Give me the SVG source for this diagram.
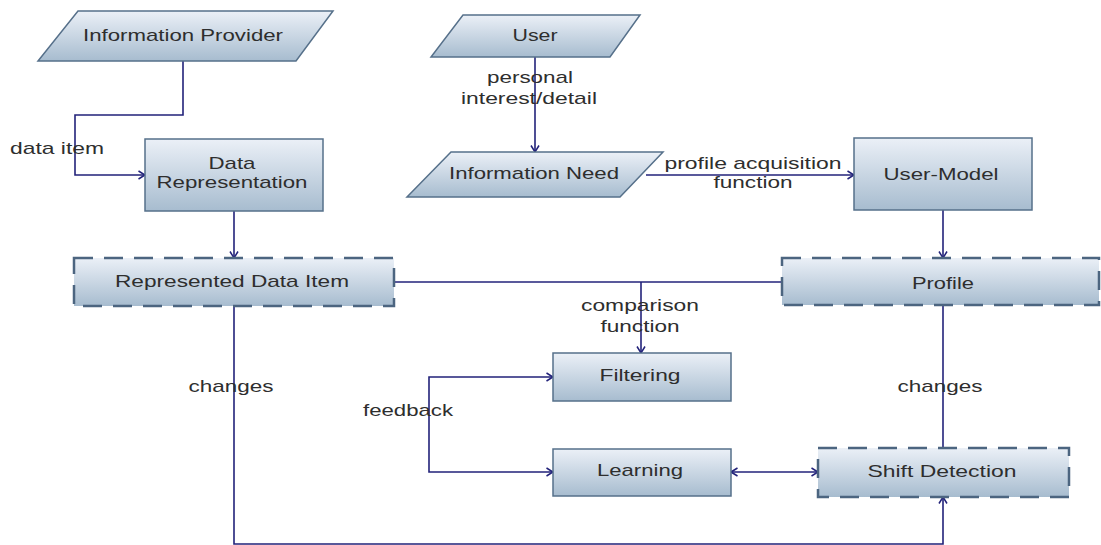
<svg xmlns="http://www.w3.org/2000/svg" width="1101" height="545" viewBox="0 0 1101 545">
  <defs>
    <linearGradient id="fillGrad" x1="0" y1="0" x2="0" y2="1">
      <stop offset="0" stop-color="#ebf0f7"/>
      <stop offset="1" stop-color="#a7bccf"/>
    </linearGradient>
    <marker id="arrow" viewBox="0 0 8 10" refX="7.5" refY="5" markerWidth="8" markerHeight="10" markerUnits="userSpaceOnUse" orient="auto-start-reverse">
      <path d="M1,1 L7.5,5 L1,9" fill="none" stroke="#22227a" stroke-width="1.5"/>
    </marker>
    <style>
      .shape { fill: url(#fillGrad); stroke: #56708a; stroke-width: 1.5; }
      .dashed { fill: url(#fillGrad); stroke: #4c6580; stroke-width: 2.5; stroke-dasharray: 19 11; }
      .lbl { font-family: "Liberation Sans", Arial, sans-serif; font-size: 17px; fill: #2e2e2e; text-anchor: middle; }
      .conn { fill: none; stroke: #22227a; stroke-width: 1.6; }
    </style>
  </defs>
  <rect width="1101" height="545" fill="#ffffff"/>

  <g id="connectors">
    <!-- Information Provider to Data Representation -->
    <path class="conn" d="M183,61 V115 H75 V175 H145" marker-end="url(#arrow)"/>
    <!-- Data Representation to Represented Data Item -->
    <path class="conn" d="M234,211 V258" marker-end="url(#arrow)"/>
    <!-- User to Information Need -->
    <path class="conn" d="M535,57 V152" marker-end="url(#arrow)"/>
    <!-- Information Need to User-Model -->
    <path class="conn" d="M646,175 H854" marker-end="url(#arrow)"/>
    <!-- User-Model to Profile -->
    <path class="conn" d="M943,210 V258" marker-end="url(#arrow)"/>
    <!-- comparison between item and profile -->
    <path class="conn" d="M394,282 H782"/>
    <path class="conn" d="M641,282 V353" marker-end="url(#arrow)"/>
    <!-- feedback loop -->
    <path class="conn" d="M553,377 H429 V472 H553" marker-start="url(#arrow)" marker-end="url(#arrow)"/>
    <!-- Learning and Shift Detection -->
    <path class="conn" d="M731,472 H818" marker-start="url(#arrow)" marker-end="url(#arrow)"/>
    <!-- Profile changes -->
    <path class="conn" d="M943,305 V448"/>
    <!-- Data item changes -->
    <path class="conn" d="M234,306 V544 H943 V497" marker-end="url(#arrow)"/>
  </g>

  <g id="connector-labels">
    <text class="lbl" x="57" y="154" textLength="94" lengthAdjust="spacingAndGlyphs">data item</text>
    <text class="lbl" x="530" y="83" textLength="86" lengthAdjust="spacingAndGlyphs">personal</text>
    <text class="lbl" x="529" y="104" textLength="136" lengthAdjust="spacingAndGlyphs">interest/detail</text>
    <text class="lbl" x="753" y="169" textLength="177" lengthAdjust="spacingAndGlyphs">profile acquisition</text>
    <text class="lbl" x="753" y="188" textLength="79" lengthAdjust="spacingAndGlyphs">function</text>
    <text class="lbl" x="640" y="311" textLength="118" lengthAdjust="spacingAndGlyphs">comparison</text>
    <text class="lbl" x="640" y="332" textLength="79" lengthAdjust="spacingAndGlyphs">function</text>
    <text class="lbl" x="408" y="416" textLength="90" lengthAdjust="spacingAndGlyphs">feedback</text>
    <text class="lbl" x="231" y="392" textLength="85" lengthAdjust="spacingAndGlyphs">changes</text>
    <text class="lbl" x="940" y="392" textLength="85" lengthAdjust="spacingAndGlyphs">changes</text>
  </g>

  <g id="information-provider">
    <polygon class="shape" points="78,11 333,11 296,61 38,61"/>
    <text class="lbl" x="183" y="41" textLength="200" lengthAdjust="spacingAndGlyphs">Information Provider</text>
  </g>

  <g id="data-representation">
    <rect class="shape" x="145" y="139" width="178" height="72"/>
    <text class="lbl" x="232" y="169" textLength="47" lengthAdjust="spacingAndGlyphs">Data</text>
    <text class="lbl" x="232" y="188" textLength="151" lengthAdjust="spacingAndGlyphs">Representation</text>
  </g>

  <g id="represented-data-item">
    <rect class="dashed" x="74" y="258" width="320" height="48"/>
    <text class="lbl" x="232" y="287" textLength="234" lengthAdjust="spacingAndGlyphs">Represented Data Item</text>
  </g>

  <g id="user">
    <polygon class="shape" points="463,15 640,15 610,57 431,57"/>
    <text class="lbl" x="535" y="41" textLength="45" lengthAdjust="spacingAndGlyphs">User</text>
  </g>

  <g id="information-need">
    <polygon class="shape" points="451,152 663,152 620,197 407,197"/>
    <text class="lbl" x="534" y="179" textLength="170" lengthAdjust="spacingAndGlyphs">Information Need</text>
  </g>

  <g id="user-model">
    <rect class="shape" x="854" y="138" width="178" height="72"/>
    <text class="lbl" x="941" y="180" textLength="115" lengthAdjust="spacingAndGlyphs">User-Model</text>
  </g>

  <g id="profile">
    <rect class="dashed" x="782" y="258" width="317" height="47"/>
    <text class="lbl" x="943" y="289" textLength="62" lengthAdjust="spacingAndGlyphs">Profile</text>
  </g>

  <g id="filtering">
    <rect class="shape" x="553" y="353" width="178" height="48"/>
    <text class="lbl" x="640" y="381" textLength="81" lengthAdjust="spacingAndGlyphs">Filtering</text>
  </g>

  <g id="learning">
    <rect class="shape" x="553" y="449" width="178" height="47"/>
    <text class="lbl" x="640" y="476" textLength="86" lengthAdjust="spacingAndGlyphs">Learning</text>
  </g>

  <g id="shift-detection">
    <rect class="dashed" x="818" y="448" width="251" height="49"/>
    <text class="lbl" x="942" y="477" textLength="149" lengthAdjust="spacingAndGlyphs">Shift Detection</text>
  </g>
</svg>
